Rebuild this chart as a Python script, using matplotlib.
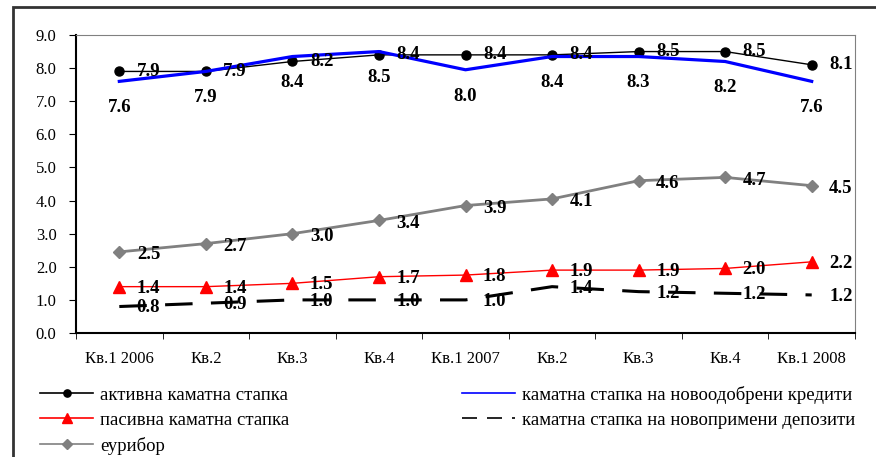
import numpy as np
import matplotlib.pyplot as plt
from matplotlib.patches import Rectangle

quarters = ['Кв.1 2006', 'Кв.2', 'Кв.3', 'Кв.4', 'Кв.1 2007', 'Кв.2', 'Кв.3', 'Кв.4', 'Кв.1 2008']
active = [7.9, 7.9, 8.2, 8.4, 8.4, 8.4, 8.5, 8.5, 8.1]
new_loans = [7.6, 7.9, 8.35, 8.5, 7.95, 8.35, 8.35, 8.2, 7.6]
new_loans_lbl = ['7.6', '7.9', '8.4', '8.5', '8.0', '8.4', '8.3', '8.2', '7.6']
passive = [1.4, 1.4, 1.5, 1.7, 1.75, 1.9, 1.9, 1.95, 2.15]
passive_lbl = ['1.4', '1.4', '1.5', '1.7', '1.8', '1.9', '1.9', '2.0', '2.2']
new_dep = [0.8, 0.9, 1.0, 1.0, 1.0, 1.4, 1.25, 1.2, 1.15]
new_dep_lbl = ['0.8', '0.9', '1.0', '1.0', '1.0', '1.4', '1.2', '1.2', '1.2']
euribor = [2.45, 2.7, 3.0, 3.4, 3.85, 4.05, 4.6, 4.7, 4.45]
euribor_lbl = ['2.5', '2.7', '3.0', '3.4', '3.9', '4.1', '4.6', '4.7', '4.5']

names = ['активна каматна стапка', 'каматна стапка на новоодобрени кредити',
         'пасивна каматна стапка', 'каматна стапка на новопримени депозити',
         'еурибор']

plt.rcParams['font.family'] = ['Liberation Serif', 'DejaVu Serif']

fig = plt.figure(figsize=(8.76, 4.57), dpi=100)
ax = fig.add_axes([0.0868, 0.2713, 0.8892, 0.6521])

x = np.arange(len(quarters))

l1, = ax.plot(x, active, color='black', lw=1, marker='o', ms=6.5)
l2, = ax.plot(x, new_loans, color='#0000ff', lw=2.3)
l3, = ax.plot(x, passive, color='#ff0000', lw=1, marker='^', ms=8.5)
l4, = ax.plot(x, new_dep, color='black', lw=2.2, dashes=(9, 6))
l5, = ax.plot(x, euribor, color='#808080', lw=2, marker='D', ms=6)

lab = dict(fontsize=13.5, fontweight='bold', ha='center', va='center',
           textcoords='offset points')
for i in range(len(x)):
    ax.annotate('%.1f' % active[i], (x[i], active[i]), xytext=(21, 0), **lab)
    ax.annotate(new_loans_lbl[i], (x[i], new_loans[i]), xytext=(0, -19), **lab)
    ax.annotate(passive_lbl[i], (x[i], passive[i]), xytext=(21, -1), **lab)
    ax.annotate(new_dep_lbl[i], (x[i], new_dep[i]), xytext=(21, -1), **lab)
    ax.annotate(euribor_lbl[i], (x[i], euribor[i]), xytext=(21, -2), **lab)

ax.set_xlim(-0.5, len(x) - 0.5)
ax.set_ylim(0, 9)
ax.set_yticks(np.arange(0, 9.1, 1.0))
ax.set_yticklabels(['%.1f' % v for v in np.arange(0, 9.1, 1.0)], fontsize=12)
ax.set_xticks(x)
ax.set_xticklabels(quarters, fontsize=12)
ax.tick_params(axis='x', length=0, pad=13)
ax.set_xticks(np.arange(-0.5, len(x)), minor=True)
ax.tick_params(axis='x', which='minor', length=4, direction='out')
ax.tick_params(axis='y', length=5, direction='out', pad=9)
for s in ['top', 'right']:
    ax.spines[s].set_color('#808080')
ax.spines['left'].set_linewidth(1.5)
ax.spines['bottom'].set_linewidth(1.5)

leg = fig.legend([l1, l3, l5, l2, l4], [names[0], names[2], names[4], names[1], names[3]],
                 ncol=2, loc='upper left', bbox_to_anchor=(0.0457, 0.156),
                 frameon=False, fontsize=13.5, handlelength=2.83, handletextpad=0.37,
                 columnspacing=9.2, labelspacing=0.42, borderaxespad=0, borderpad=0,
                 markerscale=0.8)
# thinner lines in the legend keys, like the original
for h in leg.legend_handles:
    h.set_linewidth(1.2)

fig.patches.append(Rectangle((13 / 876, -0.1), 1.2, 1.1 - 7 / 457, transform=fig.transFigure,
                             fill=False, ec='#333333', lw=2, clip_on=False))

fig.savefig('out.png', dpi=100)
